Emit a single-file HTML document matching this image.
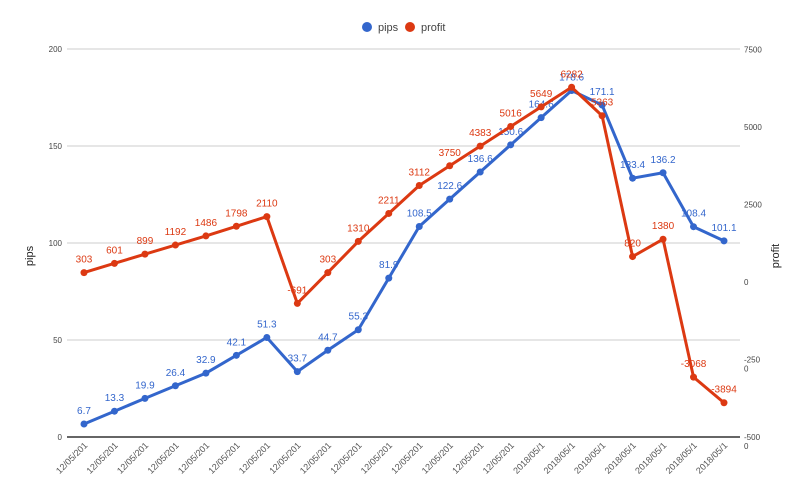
<!DOCTYPE html>
<html><head><meta charset="utf-8">
<style>
body{margin:0;background:#fff;font-family:"Liberation Sans",Arial,sans-serif;}
svg text{font-family:"Liberation Sans",Arial,sans-serif;}
</style></head>
<body>
<svg id="chart" width="800" height="494" xmlns="http://www.w3.org/2000/svg">
<g>
  <g><circle cx="367" cy="27" r="5" fill="#3366cc"/><text x="378" y="31" font-size="11" fill="#444">pips</text></g>
  <g><circle cx="410" cy="27" r="5" fill="#dc3912"/><text x="421" y="31" font-size="11" fill="#444">profit</text></g>
</g>
<g id="grid"></g>
<g id="laxis"></g>
<g id="raxis"></g>
<g id="xaxis"></g>
<text x="33" y="256" font-size="11" fill="#222" text-anchor="middle" transform="rotate(-90 33 256)">pips</text>
<text x="779" y="256" font-size="11" fill="#222" text-anchor="middle" transform="rotate(-90 779 256)">profit</text>
<g id="series"></g>
</svg>
<script>
const categories = ["12/05/201","12/05/201","12/05/201","12/05/201","12/05/201","12/05/201","12/05/201","12/05/201","12/05/201","12/05/201","12/05/201","12/05/201","12/05/201","12/05/201","12/05/201","2018/05/1","2018/05/1","2018/05/1","2018/05/1","2018/05/1","2018/05/1","2018/05/1"];
const pips = [6.7,13.3,19.9,26.4,32.9,42.1,51.3,33.7,44.7,55.3,81.9,108.5,122.6,136.6,150.6,164.6,178.6,171.1,133.4,136.2,108.4,101.1];
const profit = [303,601,899,1192,1486,1798,2110,-691,303,1310,2211,3112,3750,4383,5016,5649,6282,5363,820,1380,-3068,-3894];
const leftTicks = [0,50,100,150,200];
const rightTicks = [7500,5000,2500,0,-2500,-5000];

const NS="http://www.w3.org/2000/svg";
function mk(tag,attrs,parent){const e=document.createElementNS(NS,tag);for(const k in attrs)e.setAttribute(k,attrs[k]);parent.appendChild(e);return e;}
const x0=84, x1=724;
const xs=i=>x0+i*(x1-x0)/(categories.length-1);
const yL=v=>437-v*(388/200);
const yR=v=>282-v*(77.5/2500);

const grid=document.getElementById('grid'), la=document.getElementById('laxis'), ra=document.getElementById('raxis'), xa=document.getElementById('xaxis');
leftTicks.forEach(t=>{
  const l=mk('line',{x1:67,x2:740,y1:yL(t),y2:yL(t),stroke:t===0?'#333':'#ccc','stroke-width':t===0?1.5:1},grid);
  
  
  const tx=mk('text',{x:62,y:yL(t)+3,'font-size':8,fill:'#444','text-anchor':'end'},la);
  tx.textContent=t;
  
  
});
rightTicks.forEach(t=>{
  const y=yR(t);
  const s=String(t);
  const tx=mk('text',{x:744,y:y+3,'font-size':8,fill:'#444'},ra);
  
  
  if(s.length>4){tx.textContent=s.slice(0,4);const t2=mk('text',{x:744,y:y+12,'font-size':8,fill:'#444'},ra);t2.textContent=s.slice(4);
    
    }
  else tx.textContent=s;
});
categories.forEach((c,i)=>{
  const x=xs(i)+4,y=446;
  const tx=mk('text',{x:x,y:y,'font-size':9,fill:'#555','text-anchor':'end',transform:`rotate(-45 ${x} ${y})`},xa);
  tx.textContent=c;
  
  
});
const ser=document.getElementById('series');
function drawSeries(vals,yf,color,name,fmt){
  const g=mk('g',{},ser);
  
  
  const pl=mk('polyline',{points:vals.map((v,i)=>xs(i)+','+yf(v)).join(' '),fill:'none',stroke:color,'stroke-width':3,'stroke-linejoin':'round'},g);
  
  
  vals.forEach((v,i)=>{
    const c=mk('circle',{cx:xs(i),cy:yf(v),r:3.5,fill:color},g);
    
    
    const t=mk('text',{x:xs(i),y:yf(v)-10,'font-size':10,fill:color,'text-anchor':'middle'},g);
    t.textContent=fmt(v);
    
    
  });
}
drawSeries(pips,yL,'#3366cc','pips',v=>v.toFixed(1));
drawSeries(profit,yR,'#dc3912','profit',v=>String(v));
</script>
</body></html>
